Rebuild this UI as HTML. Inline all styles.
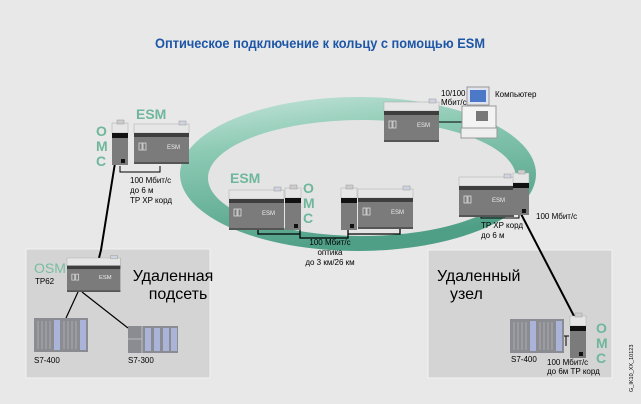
<!DOCTYPE html>
<html><head><meta charset="utf-8"><style>
html,body{margin:0;padding:0;background:#e8e8e8}
svg{display:block}
text{font-family:"Liberation Sans",sans-serif}
</style></head><body>
<svg width="641" height="404" viewBox="0 0 641 404" xmlns="http://www.w3.org/2000/svg">
<defs>
<linearGradient id="rg" x1="0" y1="0" x2="0.3" y2="1">
<stop offset="0" stop-color="#c9e6dc"/><stop offset="0.35" stop-color="#8ccab4"/><stop offset="1" stop-color="#4f9f86"/>
</linearGradient>
<g id="esm">
<rect x="0" y="0" width="55" height="40" fill="#7b7b7b"/>
<rect x="0" y="0" width="55" height="9" fill="#e6e6e6" stroke="#aaa" stroke-width="0.5"/>
<rect x="0" y="9" width="55" height="4" fill="#3e3e3e"/>
<rect x="45" y="-3" width="7" height="4" fill="#cfd2e0" stroke="#999" stroke-width="0.5"/>
<rect x="5" y="19" width="3" height="7" fill="none" stroke="#ddd" stroke-width="0.8"/>
<rect x="9" y="19" width="3" height="7" fill="none" stroke="#ddd" stroke-width="0.8"/>
<text x="33" y="25" font-size="6" fill="#eee">ESM</text>
<rect x="0" y="38" width="55" height="2" fill="#555"/>
</g>
<g id="omc">
<rect x="0" y="0" width="16" height="42" fill="#7b7b7b"/>
<rect x="0" y="0" width="16" height="10" fill="#e6e6e6" stroke="#aaa" stroke-width="0.5"/>
<rect x="0" y="10" width="16" height="5" fill="#111"/>
<rect x="5" y="-3" width="7" height="4" fill="#ccc" stroke="#999" stroke-width="0.5"/>
<rect x="9" y="36" width="4" height="4" fill="#111"/>
</g>
<g id="s7">
<rect x="0" y="0" width="54" height="34" fill="#8a8c92"/>
<rect x="20" y="2" width="6" height="30" fill="#a9b4d8"/>
<rect x="46" y="2" width="6" height="30" fill="#a9b4d8"/>
<path d="M4 3v28M8 3v28M12 3v28M16 3v28M30 3v28M34 3v28M38 3v28M42 3v28" stroke="#b6b6b6" stroke-width="0.8"/>
</g>
</defs>
<rect width="641" height="404" fill="#e8e8e8"/>
<text x="320" y="48" font-size="13.5" font-weight="bold" fill="#1d56a6" text-anchor="middle" textLength="330" lengthAdjust="spacingAndGlyphs">Оптическое подключение к кольцу с помощью ESM</text>

<ellipse cx="358" cy="174" rx="178" ry="77" fill="url(#rg)"/>
<ellipse cx="362" cy="178" rx="154" ry="58" fill="#e4e4e4"/>

<rect x="26" y="249" width="184" height="129" fill="#d4d4d4" stroke="#f2f2f2"/>
<rect x="428" y="250" width="184" height="128" fill="#d4d4d4" stroke="#f2f2f2"/>

<path d="M115 163 L101 250 L98 262" stroke="#000" stroke-width="2" fill="none"/>
<path d="M519 210 L575 318" stroke="#000" stroke-width="2" fill="none"/>
<path d="M120 166v6h40v-6" stroke="#000" stroke-width="1" fill="none"/>
<path d="M78 292 L66 318 M82 292 L128 328" stroke="#000" stroke-width="1.2" fill="none"/>
<path d="M258 230v4h42v-6 M300 228v10h48v-10 M348 234h52v-6" stroke="#000" stroke-width="1.3" fill="none"/>
<path d="M437 122h25" stroke="#000" stroke-width="1"/>
<path d="M481 212v6h38v-8" stroke="#000" stroke-width="1" fill="none"/>
<path d="M566 336v10 M563 336h6" stroke="#000" stroke-width="1"/>

<use href="#omc" x="112" y="123"/>
<use href="#esm" x="134" y="124"/>
<text x="136" y="119" font-size="14" font-weight="bold" fill="#6fb79c">ESM</text>
<text x="96" y="136" font-size="14" font-weight="bold" fill="#6fb79c">O</text>
<text x="96" y="151" font-size="14" font-weight="bold" fill="#6fb79c">M</text>
<text x="96" y="166" font-size="14" font-weight="bold" fill="#6fb79c">C</text>
<text x="130" y="183" font-size="8" fill="#000">100 Мбит/с</text>
<text x="130" y="193" font-size="8" fill="#000">до 6 м</text>
<text x="130" y="203" font-size="8" fill="#000">TP XP корд</text>

<use href="#esm" x="229" y="190"/>
<use href="#omc" x="285" y="188"/>
<text x="230" y="183" font-size="14" font-weight="bold" fill="#6fb79c">ESM</text>
<text x="303" y="193" font-size="14" font-weight="bold" fill="#6fb79c">O</text>
<text x="303" y="208" font-size="14" font-weight="bold" fill="#6fb79c">M</text>
<text x="303" y="223" font-size="14" font-weight="bold" fill="#6fb79c">C</text>
<use href="#omc" x="341" y="188"/>
<use href="#esm" x="358" y="189"/>
<text x="330" y="245" font-size="8" fill="#000" text-anchor="middle">100 Мбит/с</text>
<text x="330" y="255" font-size="8" fill="#000" text-anchor="middle">оптика</text>
<text x="330" y="265" font-size="8" fill="#000" text-anchor="middle">до 3 км/26 км</text>

<use href="#esm" x="384" y="102"/>
<rect x="467" y="87" width="22" height="18" fill="#dfe4f0" stroke="#999"/>
<rect x="470" y="90" width="16" height="12" fill="#4c78c8"/>
<rect x="462" y="106" width="34" height="22" fill="#f3f3f3" stroke="#999"/>
<rect x="476" y="111" width="12" height="10" fill="#777"/>
<rect x="461" y="128" width="36" height="10" fill="#eee" stroke="#999"/>
<text x="441" y="96" font-size="8" fill="#000">10/100</text>
<text x="441" y="105" font-size="8" fill="#000">Мбит/с</text>
<text x="495" y="97" font-size="8" fill="#000">Компьютер</text>

<use href="#esm" x="459" y="177"/>
<use href="#omc" x="513" y="173"/>
<text x="536" y="219" font-size="8" fill="#000">100 Мбит/с</text>
<text x="481" y="228" font-size="8" fill="#000">TP XP корд</text>
<text x="481" y="238" font-size="8" fill="#000">до 6 м</text>

<g transform="translate(67,258) scale(0.97,0.85)"><use href="#esm"/></g>
<text x="34" y="273" font-size="14" fill="#79bda2">OSM</text>
<text x="35" y="284" font-size="8" fill="#000">TP62</text>
<text x="173" y="281" font-size="16" fill="#000" text-anchor="middle">Удаленная</text>
<text x="178" y="299" font-size="16" fill="#000" text-anchor="middle">подсеть</text>
<use href="#s7" x="34" y="318"/>
<rect x="128" y="326" width="50" height="27" fill="#8a8c92"/>
<path d="M128 339h14M142 326v27" stroke="#ccc" stroke-width="0.8"/>
<rect x="145" y="328" width="6" height="23" fill="#a9b4d8"/><rect x="154" y="328" width="6" height="23" fill="#a9b4d8"/><rect x="163" y="328" width="6" height="23" fill="#a9b4d8"/><rect x="171" y="328" width="6" height="23" fill="#a9b4d8"/>
<text x="34" y="363" font-size="8" fill="#000">S7-400</text>
<text x="128" y="363" font-size="8" fill="#000">S7-300</text>

<text x="437" y="281" font-size="16" fill="#000">Удаленный</text>
<text x="450" y="299" font-size="16" fill="#000">узел</text>
<use href="#s7" x="510" y="319"/>
<use href="#omc" x="570" y="316"/>
<text x="596" y="333" font-size="14" font-weight="bold" fill="#6fb79c">O</text>
<text x="596" y="348" font-size="14" font-weight="bold" fill="#6fb79c">M</text>
<text x="596" y="363" font-size="14" font-weight="bold" fill="#6fb79c">C</text>
<text x="511" y="362" font-size="8" fill="#000">S7-400</text>
<text x="547" y="365" font-size="8" fill="#000">100 Мбит/с</text>
<text x="547" y="374" font-size="8" fill="#000">до 6м TP корд</text>
<text transform="translate(633,392) rotate(-90)" font-size="5.5" fill="#000">G_IK10_XX_10123</text>
</svg>
</body></html>
